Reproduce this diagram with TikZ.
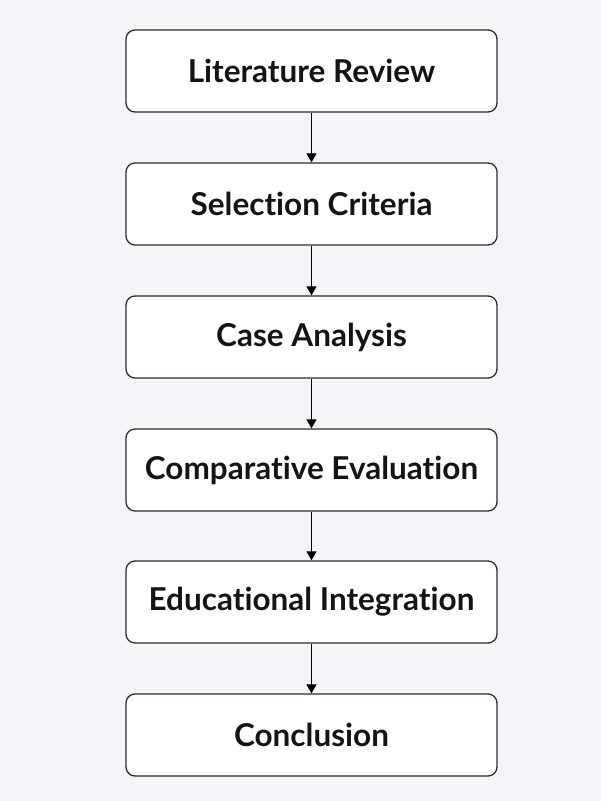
\documentclass[tikz,border=0pt]{standalone}
\usepackage{fontspec}
\setmainfont{Lato}[Ligatures={NoCommon,NoDiscretionary}]
\usetikzlibrary{arrows.meta}
\definecolor{bgc}{HTML}{F4F5F8}
\definecolor{edgec}{HTML}{2E2E2E}
\tikzset{
  stagebox/.style={draw=edgec, line width=1.3pt, fill=white, rounded corners=9pt,
    minimum width=371pt, minimum height=82pt, inner sep=0pt,
    font=\fontsize{31.5}{36}\selectfont\bfseries, text=black!92},
  flowarrow/.style={draw=black, line width=1.2pt, -{Triangle[length=9pt,width=10pt]}}
}
\begin{document}
\begin{tikzpicture}[x=1pt,y=1pt]
\fill[bgc] (0,0) rectangle (601,801);
\useasboundingbox (0,0) rectangle (601,801);
\node[stagebox] (n1) at (311.5,730) {Literature Review};
\node[stagebox] (n2) at (311.5,597) {Selection Criteria};
\node[stagebox] (n3) at (311.5,464) {Case Analysis};
\node[stagebox] (n4) at (311.5,331) {Comparative Evaluation};
\node[stagebox] (n5) at (311.5,199) {Educational Integration};
\node[stagebox] (n6) at (311.5,66) {Conclusion};
\draw[flowarrow] (n1) -- (n2);
\draw[flowarrow] (n2) -- (n3);
\draw[flowarrow] (n3) -- (n4);
\draw[flowarrow] (n4) -- (n5);
\draw[flowarrow] (n5) -- (n6);
\end{tikzpicture}
\end{document}
